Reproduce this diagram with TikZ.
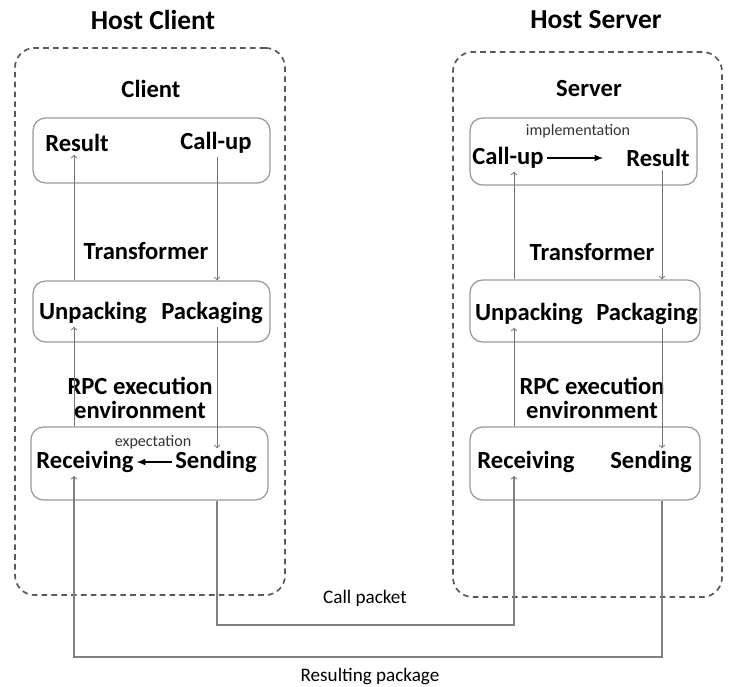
\documentclass[tikz,border=0pt]{standalone}
\usepackage{fontspec}
\setmainfont{Carlito}
\usetikzlibrary{arrows, positioning}

\begin{document}
\begin{tikzpicture}[x=0.025cm, y=-0.025cm]
    \tikzstyle{host} = [rectangle, rounded corners=14pt, draw=black!65, line width=1.2pt, dash pattern=on 4pt off 3pt]
    \tikzstyle{layer} = [rectangle, rounded corners=9pt, draw=black!40, line width=0.9pt]
    \tikzstyle{title} = [font=\fontsize{19.5}{22}\selectfont\bfseries]
    \tikzstyle{part} = [font=\fontsize{17.5}{19}\selectfont\bfseries]
    \tikzstyle{item} = [font=\fontsize{17.5}{17.5}\selectfont\bfseries, align=center, inner sep=2pt]
    \tikzstyle{note} = [font=\fontsize{11.4}{13}\selectfont, text=black!80]
    \tikzstyle{caption} = [font=\fontsize{13.6}{16}\selectfont]
    \tikzstyle{arrow} = [draw=black!55, line width=0.7pt, ->, >=to]
    \tikzstyle{link} = [draw=black!50, line width=0.8pt, ->, >=to]
    \tikzstyle{flow} = [line width=1.1pt, ->, >=latex]

    \useasboundingbox (0,0) rectangle (732,686);

    % the two machines
    \node (hostC) [host, minimum width=6.75cm, minimum height=13.675cm] at (150,321.5) {};
    \node (hostS) [host, minimum width=6.725cm, minimum height=13.625cm] at (587.5,324.5) {};
    \node (hostCname) [title] at (153,20) {Host Client};
    \node (hostSname) [title] at (596,20) {Host Server};
    \node (client) [part] at (151,89) {Client};
    \node (server) [part] at (589,89) {Server};

    % client layers
    \node (cTop) [layer, minimum width=5.925cm, minimum height=1.625cm] at (151.5,150.5) {};
    \node (cMid) [layer, minimum width=5.925cm, minimum height=1.525cm] at (151.5,311.5) {};
    \node (cBot) [layer, minimum width=5.925cm, minimum height=1.825cm] at (149.5,463.5) {};
    \node (cResult) [item] at (77,143) {Result};
    \node (cCallup) [item] at (216,143) {Call-up};
    \node (cTrans) [item] at (146,251) {Transformer};
    \node (cUnpack) [item] at (93,313) {Unpacking};
    \node (cPack) [item] at (212,313) {Packaging};
    \node (cRpc) [item] at (140,398) {RPC execution\\environment};
    \node (cRecv) [item] at (85,462) {Receiving};
    \node (cSend) [item] at (216,462) {Sending};
    \node (cExpect) [note] at (153,442) {expectation};

    % server layers
    \node (sTop) [layer, minimum width=5.675cm, minimum height=1.675cm] at (583.5,151.5) {};
    \node (sMid) [layer, minimum width=5.75cm, minimum height=1.55cm] at (585,311) {};
    \node (sBot) [layer, minimum width=5.75cm, minimum height=1.825cm] at (585,463.5) {};
    \node (sCallup) [item] at (508,158) {Call-up};
    \node (sResult) [item] at (658,158) {Result};
    \node (sImpl) [note] at (578,131) {implementation};
    \node (sTrans) [item] at (592,252) {Transformer};
    \node (sUnpack) [item] at (529,314) {Unpacking};
    \node (sPack) [item] at (647,314) {Packaging};
    \node (sRpc) [item] at (592,398) {RPC execution\\environment};
    \node (sRecv) [item] at (526,462) {Receiving};
    \node (sSend) [item] at (651,462) {Sending};

    % lanes for the vertical lines
    \coordinate (cLaneL) at (74,0);
    \coordinate (cLaneR) at (217,0);
    \coordinate (sLaneL) at (514,0);
    \coordinate (sLaneR) at (662,0);
    \coordinate (callLane) at (0,625);
    \coordinate (resLane) at (0,657);

    % client side
    \draw [arrow] (cCallup.south -| cLaneR) -- (cMid.north -| cLaneR);
    \draw [arrow] (cMid.north -| cLaneL) -- (cResult.south -| cLaneL);
    \draw [arrow] (cBot.north -| cLaneL) -- (cUnpack.south -| cLaneL);
    \draw [arrow] (cPack.south -| cLaneR) -- (cSend.north -| cLaneR);
    \draw [flow] (cSend.west) -- (cRecv.east);

    % server side
    \draw [flow, shorten >=0.5cm] (sCallup.east) -- (sResult.west);
    \draw [arrow] (sMid.north -| sLaneL) -- (sCallup.south -| sLaneL);
    \draw [arrow] (sResult.south -| sLaneR) -- (sMid.north -| sLaneR);
    \draw [arrow] (sBot.north -| sLaneL) -- (sUnpack.south -| sLaneL);
    \draw [arrow] (sPack.south -| sLaneR) -- (sSend.north -| sLaneR);

    % network
    \draw [link] (cBot.south -| cLaneR) -- (callLane -| cLaneR) -- (callLane -| sLaneL) -- (sRecv.south -| sLaneL);
    \draw [link] (sBot.south -| sLaneR) -- (resLane -| sLaneR) -- (resLane -| cLaneL) -- (cRecv.south -| cLaneL);
    \node (callText) [caption] at (365,598) {Call packet};
    \node (resText) [caption] at (370,676) {Resulting package};
\end{tikzpicture}
\end{document}
